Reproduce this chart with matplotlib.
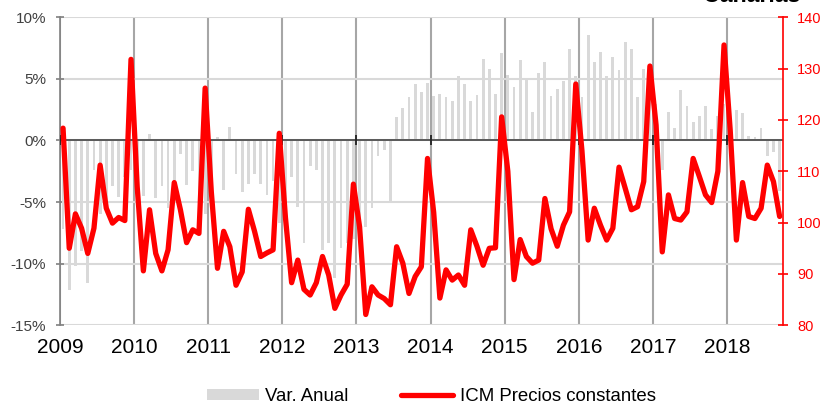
import numpy as np
import matplotlib.pyplot as plt
from matplotlib.patches import Patch
from matplotlib.lines import Line2D
from matplotlib.ticker import FuncFormatter

plt.rcParams['font.family'] = ['Liberation Sans', 'DejaVu Sans']

anios = ['2009', '2010', '2011', '2012', '2013', '2014', '2015', '2016', '2017', '2018']

# variacion anual (%), ene 2009 - sep 2018
var_anual = [
    -7.2, -12.1, -10.2, -9.0, -11.6, -2.4, -6.0, -5.5, -3.7, -4.6, -3.0, -2.4,
    -2.4, -4.5, 0.5, -4.7, -3.7, -5.5, -5.0, -1.1, -3.6, -2.5, -5.0, -6.0,
    -3.0, 0.3, -4.0, 1.1, -2.7, -4.2, -3.5, -2.7, -3.5, -4.4, -3.3, -6.7,
    -5.0, -3.0, -5.4, -8.3, -2.1, -2.4, -8.9, -8.3, -11.2, -8.7, -8.3, -8.0,
    -6.8, -7.0, -5.5, -1.3, -0.8, -4.9, 1.9, 2.6, 3.5, 4.6, 3.9, 4.7,
    3.6, 3.8, 3.5, 3.2, 5.2, 4.6, 3.2, 3.7, 6.6, 5.8, 3.8, 7.1,
    5.3, 4.3, 6.5, 4.9, 2.3, 5.5, 6.4, 3.6, 4.2, 4.8, 7.4, 5.2,
    3.5, 8.6, 6.4, 7.2, 5.2, 6.8, 5.7, 8.0, 7.4, 3.5, 5.8, 4.5,
    3.0, -2.4, 2.3, 1.0, 4.1, 2.8, 1.5, 2.0, 2.8, 0.9, 2.0, 3.0,
    1.0, 2.5, 2.2, 0.4, 0.3, 1.0, -1.3, -0.9, -4.1,
]

# ICM precios constantes
icm = [
    118.4, 95.0, 101.7, 98.9, 94.0, 98.9, 111.2, 102.8, 99.9, 101.0, 100.4, 131.8,
    107.0, 90.6, 102.5, 94.0, 90.6, 94.7, 107.8, 102.5, 96.1, 98.6, 97.9, 126.2,
    106.0, 91.1, 98.3, 95.3, 87.8, 90.4, 102.6, 98.3, 93.4, 94.1, 94.7, 117.4,
    101.0, 88.3, 92.7, 87.0, 85.9, 88.3, 93.4, 89.8, 83.3, 85.9, 88.0, 107.5,
    99.2, 82.1, 87.5, 85.9, 85.2, 84.0, 95.3, 92.1, 86.2, 89.5, 91.4, 112.5,
    102.0, 85.3, 90.8, 88.8, 89.8, 87.8, 98.6, 95.4, 91.7, 95.0, 95.1, 120.6,
    110.0, 88.9, 96.7, 93.4, 92.1, 92.7, 104.7, 98.8, 95.4, 99.5, 102.1, 127.0,
    114.0, 96.6, 102.8, 99.5, 96.6, 98.9, 110.8, 106.7, 102.5, 103.1, 108.0, 130.5,
    119.0, 94.3, 105.4, 100.8, 100.5, 102.1, 112.5, 109.0, 105.4, 103.9, 110.0, 134.6,
    118.0, 96.6, 107.8, 101.2, 100.8, 102.8, 111.2, 108.0, 101.2,
]

x = np.arange(len(icm))
pos_anios = [12 * k - 0.5 for k in range(len(anios))]

fig = plt.figure(figsize=(8.26, 4.08), dpi=100)
ax = fig.add_axes([0.0726, 0.2027, 0.875, 0.755])
ax2 = ax.twinx()

# barras var. anual
ax.bar(x, var_anual, width=0.45, color='#d9d9d9', zorder=2)
ax.axhline(0, color='#595959', lw=1.4, zorder=3)
ax.plot(pos_anios, [0] * len(pos_anios), ls='none', marker='|', ms=7,
        mew=1.3, color='#222222', zorder=3)

ax.set_xlim(-0.5, len(icm) - 0.5)
ax.set_ylim(-15, 10)
ax.set_yticks(range(-15, 11, 5))
ax.yaxis.set_major_formatter(FuncFormatter(lambda v, p: f'{v:.0f}%'))
ax.set_xticks(pos_anios)
ax.set_xticklabels(anios)

ax.yaxis.grid(True, color='#d9d9d9', lw=1.5, zorder=0)
ax.xaxis.grid(True, color='#a6a6a6', lw=1.5, zorder=0)
ax.set_axisbelow(True)

for s in ['top', 'right', 'bottom']:
    ax.spines[s].set_visible(False)
ax.spines['left'].set_color('#808080')
ax.spines['left'].set_linewidth(1.2)
ax.tick_params(axis='y', direction='inout', length=6, width=1.2, color='#808080',
               labelsize=11, labelcolor='#404040', pad=7)
ax.tick_params(axis='x', length=0, labelsize=15, labelcolor='black', pad=9)

# linea ICM
ax2.plot(x, icm, color='#ff0000', lw=3.8, solid_joinstyle='round',
         solid_capstyle='round', zorder=4)
ax2.set_ylim(80, 140)
ax2.set_yticks(range(80, 141, 10))
for s in ['top', 'left', 'bottom']:
    ax2.spines[s].set_visible(False)
ax2.spines['right'].set_color('#ff0000')
ax2.spines['right'].set_linewidth(1.2)
ax2.tick_params(axis='y', direction='inout', length=7, width=1.2, color='#ff0000',
                labelsize=10.5, labelcolor='#ff0000', pad=7)

# titulo (cortado arriba, como en el original)
fig.text(0.9685, 1 - 2.5 / 408, 'Canarias', ha='right', va='baseline',
         fontsize=16.7, fontweight='bold')

handles = [Patch(facecolor='#d9d9d9', edgecolor='none'),
           Line2D([0], [0], color='#ff0000', lw=3.8, solid_capstyle='round')]
fig.legend(handles, ['Var. Anual', 'ICM Precios constantes'], loc='center',
           bbox_to_anchor=(0.522, 0.028), ncol=2, frameon=False, fontsize=13.4,
           handlelength=2.8, handleheight=0.55, handletextpad=0.35,
           columnspacing=2.8)

fig.savefig('out.png', dpi=100)
